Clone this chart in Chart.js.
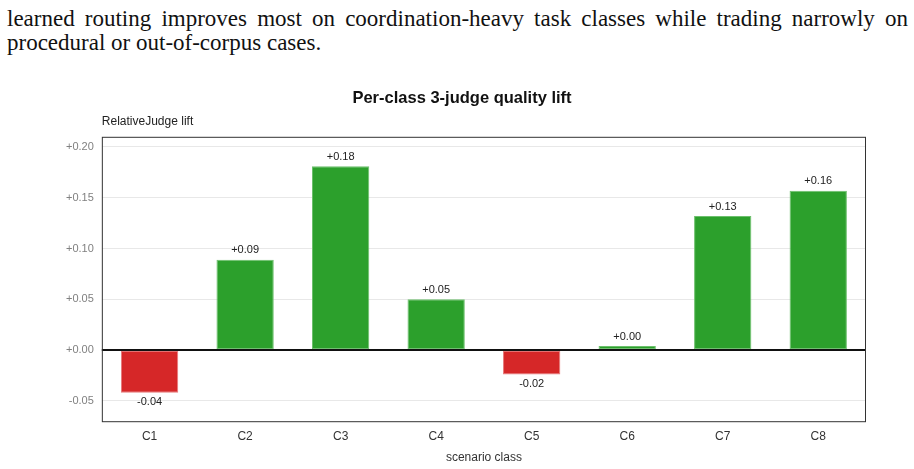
<!DOCTYPE html>
<html>
<head>
<meta charset="utf-8">
<script src="https://cdn.jsdelivr.net/npm/chart.js@4/dist/chart.umd.min.js"></script>
<style>
  html, body { margin: 0; padding: 0; background: #fff; }
  body { width: 914px; height: 469px; position: relative; overflow: hidden; }
  .para { position: absolute; left: 7px; top: 7px; width: 901px; font-family: "Liberation Serif", serif; font-size: 23px; color: #111; line-height: 24px; }
  .para .l1 { text-align: justify; text-align-last: justify; }
  .wrap { position: absolute; left: 0; top: 75px; width: 914px; height: 394px; }
</style>
</head>
<body>
<div class="para">
  <div class="l1">learned routing improves most on coordination-heavy task classes while trading narrowly on</div>
  <div>procedural or out-of-corpus cases.</div>
</div>
<div class="wrap"><canvas id="chart"></canvas></div>
<script>
// ---- data ----
const classes = ['C1', 'C2', 'C3', 'C4', 'C5', 'C6', 'C7', 'C8'];
const lift = [-0.042, 0.089, 0.181, 0.050, -0.024, 0.004, 0.132, 0.157];

const GREEN = '#2ca02c';
const RED = '#d62728';

const fmt = (v) => (v >= 0 ? '+' : '') + v.toFixed(2);

// frame, zero line, axis caption and value labels
const decor = {
    id: 'decor',
    afterDatasetsDraw(chart) {
        const { ctx, chartArea: a, scales } = chart;
        const y0 = scales.y.getPixelForValue(0);
        ctx.save();
        ctx.strokeStyle = '#111';
        ctx.lineWidth = 2;
        ctx.beginPath();
        ctx.moveTo(a.left, y0);
        ctx.lineTo(a.right, y0);
        ctx.stroke();

        ctx.strokeStyle = '#333';
        ctx.lineWidth = 1;
        ctx.strokeRect(a.left + 0.5, a.top + 0.5, a.right - a.left - 1, a.bottom - a.top - 1);

        ctx.fillStyle = '#222';
        ctx.font = '12px Arial, "Liberation Sans", sans-serif';
        ctx.textAlign = 'left';
        ctx.textBaseline = 'bottom';
        ctx.fillText('RelativeJudge lift', a.left, a.top - 9);

        ctx.font = '11px Arial, "Liberation Sans", sans-serif';
        ctx.textAlign = 'center';
        chart.getDatasetMeta(0).data.forEach((bar, i) => {
            const v = lift[i];
            if (v >= 0) {
                ctx.textBaseline = 'bottom';
                ctx.fillText(fmt(v), bar.x, bar.y - 4);
            } else {
                ctx.textBaseline = 'top';
                ctx.fillText(fmt(v), bar.x, bar.y + 4);
            }
        });
        ctx.restore();
    }
};

new Chart(document.getElementById('chart'), {
    type: 'bar',
    data: {
        labels: classes,
        datasets: [{
            data: lift,
            backgroundColor: lift.map(v => v >= 0 ? GREEN : RED),
            borderColor: lift.map(v => v >= 0 ? '#6cc06c' : '#e77a7b'),
            borderWidth: 1,
            borderSkipped: false,
            barPercentage: 0.6,
            categoryPercentage: 1.0
        }]
    },
    options: {
        responsive: true,
        maintainAspectRatio: false,
        animation: false,
        layout: { padding: { left: 58, right: 48, top: 0, bottom: 4 } },
        plugins: {
            legend: { display: false },
            tooltip: { enabled: false },
            title: {
                display: true,
                text: 'Per-class 3-judge quality lift',
                color: '#111',
                font: { size: 16.5, weight: 'bold', family: 'Arial, "Liberation Sans", sans-serif' },
                padding: { top: 14, bottom: 28 }
            }
        },
        scales: {
            x: {
                grid: { display: false, drawTicks: false },
                border: { display: false },
                ticks: { color: '#333', font: { size: 12, family: 'Arial, "Liberation Sans", sans-serif' }, padding: 7 },
                title: {
                    display: true,
                    text: 'scenario class',
                    color: '#333',
                    font: { size: 12, family: 'Arial, "Liberation Sans", sans-serif' },
                    padding: { top: 0, bottom: 0 }
                }
            },
            y: {
                min: -0.071,
                max: 0.21,
                grid: { color: '#e8e8e8', drawTicks: false },
                border: { display: false },
                ticks: {
                    stepSize: 0.05,
                    includeBounds: false,
                    color: '#808080',
                    padding: 8,
                    font: { size: 11, family: 'Arial, "Liberation Sans", sans-serif' },
                    callback: (v) => fmt(Math.abs(v) < 1e-9 ? 0 : v)
                }
            }
        }
    },
    plugins: [decor]
});
</script>
</body>
</html>
